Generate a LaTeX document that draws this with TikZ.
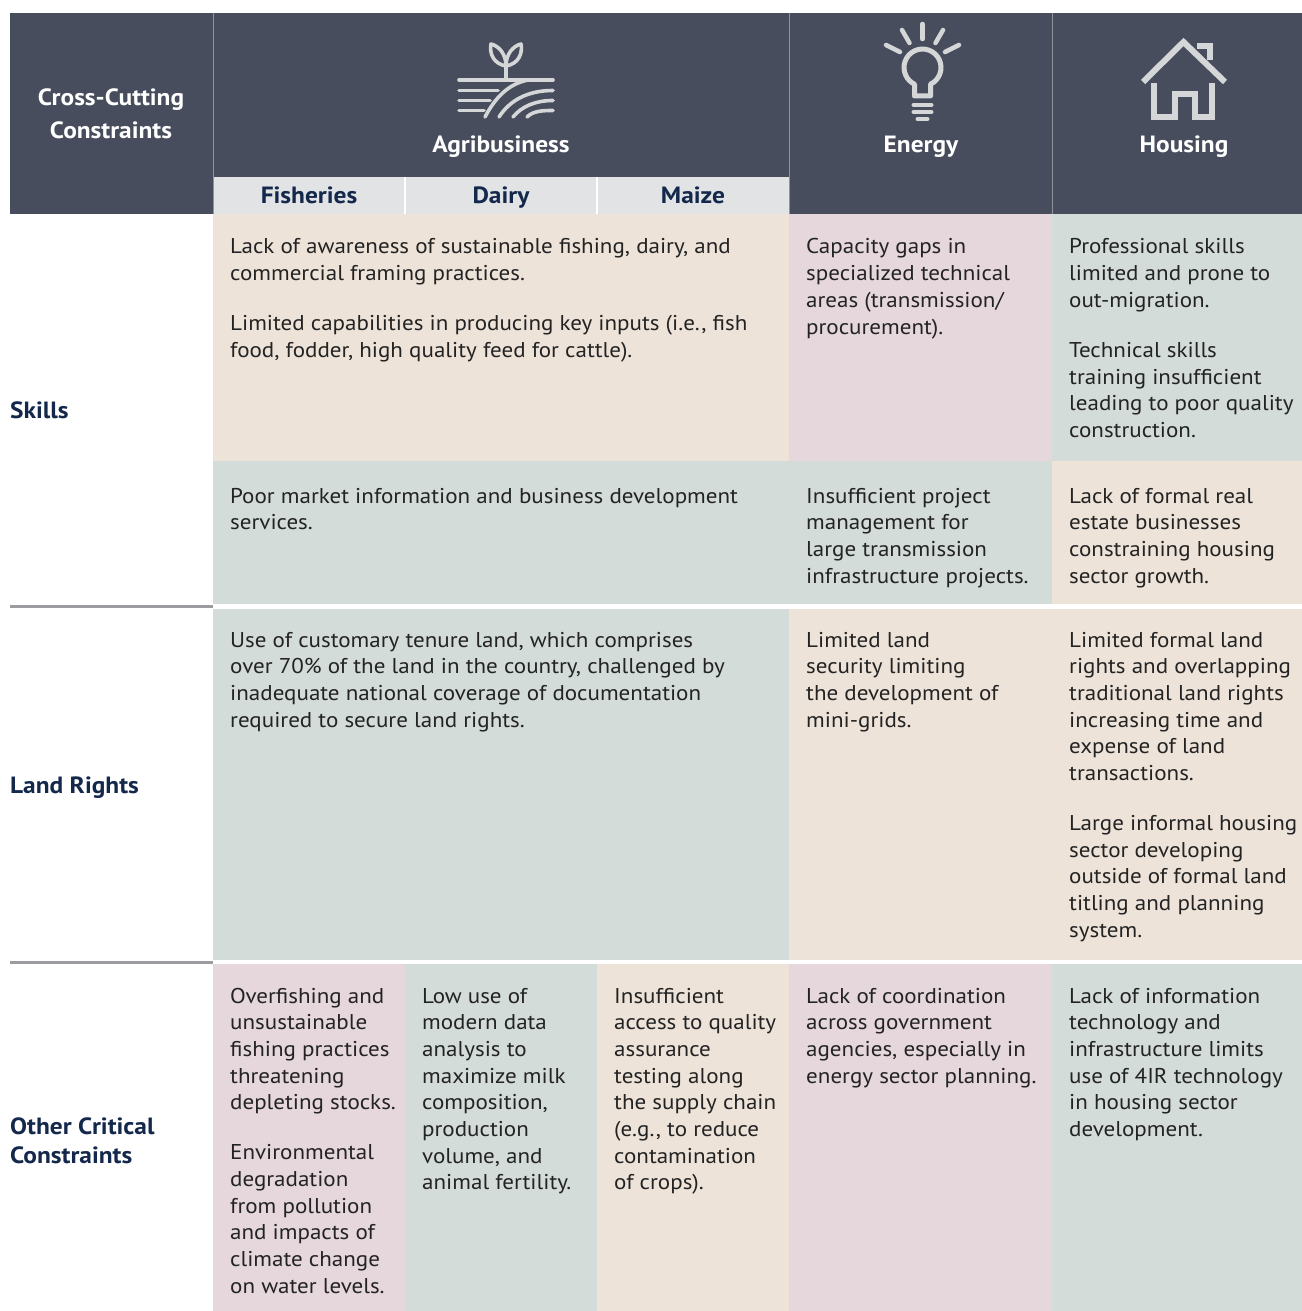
\documentclass[tikz,border=0pt]{standalone}
\usepackage{fontspec}
\setmainfont{PT Sans}[Numbers=OldStyle]
\newfontfamily\bodyf{PT Sans}[FakeStretch=1.076]
\newfontfamily\boldf{PT Sans}[FakeStretch=1.08]
\definecolor{hdr}{HTML}{474D5C}
\definecolor{subh}{HTML}{E1E3E5}
\definecolor{beige}{HTML}{EDE3D9}
\definecolor{sage}{HTML}{D3DCD9}
\definecolor{rose}{HTML}{E5D7DB}
\definecolor{navy}{HTML}{14284B}
\definecolor{bodyc}{HTML}{232323}
\definecolor{rulec}{HTML}{9B9CA0}
\definecolor{iconc}{HTML}{D5D6D8}
\definecolor{hsep}{HTML}{8E939C}
\newcommand{\lt}[1]{\begin{tabular}[t]{@{}l@{}}#1\end{tabular}}
\newcommand{\ct}[1]{\begin{tabular}[t]{@{}c@{}}#1\end{tabular}}
\newcommand{\pgap}{\\[23.3bp]}
\begin{document}
\begin{tikzpicture}[x=1bp,y=-1bp,
  body/.style={anchor=base west, inner sep=0pt, text=bodyc, font=\bodyf\fontsize{21.4bp}{26.7bp}\selectfont},
  hd/.style={anchor=base, inner sep=0pt, text=white, font=\boldf\bfseries\fontsize{23.5bp}{33bp}\selectfont},
  subt/.style={anchor=base, inner sep=0pt, text=navy, font=\boldf\bfseries\fontsize{23.5bp}{26bp}\selectfont},
  rowlab/.style={anchor=base west, inner sep=0pt, text=navy, font=\boldf\bfseries\fontsize{23.5bp}{29bp}\selectfont},
  icon/.style={draw=iconc, line width=4.5bp, line cap=round, line join=round},
]
\useasboundingbox (0,0) rectangle (1302,1311);
\fill[white] (0,0) rectangle (1302,1311);
% header
\fill[hdr] (10,13) rectangle (1302,214);
\fill[subh] (213,177) rectangle (789,214);
\draw[hsep, line width=1bp] (213,13) -- (213,214);
\draw[hsep, line width=1bp] (789,13) -- (789,214);
\draw[hsep, line width=1bp] (1052,13) -- (1052,214);
\draw[white, line width=1.2bp] (405,177) -- (405,214);
\draw[white, line width=1.2bp] (597,177) -- (597,214);
% Skills rows
\fill[beige] (213,214) rectangle (789,461);
\fill[rose] (789,214) rectangle (1052,461);
\fill[sage] (1052,214) rectangle (1302,461);
\fill[sage] (213,461) rectangle (1052,604);
\fill[beige] (1052,461) rectangle (1302,604);
% Land rights
\fill[sage] (213,609) rectangle (789,960);
\fill[beige] (789,609) rectangle (1302,960);
% Other
\fill[rose] (213,964) rectangle (405,1311);
\fill[sage] (405,964) rectangle (597,1311);
\fill[beige] (597,964) rectangle (789,1311);
\fill[rose] (789,964) rectangle (1052,1311);
\fill[sage] (1052,964) rectangle (1302,1311);
% rules
\draw[rulec, line width=3bp] (10,606.5) -- (213,606.5);
\draw[rulec, line width=3bp] (10,962) -- (213,962);

% icons: agribusiness
\draw[icon, line width=3.6bp] (506,66) .. controls (494,64) and (489,54) .. (491,44) .. controls (499,46) and (506,54) .. (506,66)
  .. controls (518,64) and (523,54) .. (521,44) .. controls (513,46) and (506,54) .. (506,66) -- (506,79);
\draw[icon, line width=3.6bp] (459,80) -- (553,80);
\draw[icon, line width=3.6bp] (459,90.5) -- (498,90.5);
\draw[icon, line width=3.6bp] (459,100.5) -- (490,100.5);
\draw[icon, line width=3.6bp] (459,110.5) -- (484,110.5);
\draw[icon, line width=3.6bp] (485,117) .. controls (495,98) and (508,84) .. (528,80);
\draw[icon, line width=3.6bp] (499,117) .. controls (510,100) and (528,90.5) .. (553,90.5);
\draw[icon, line width=3.6bp] (513,117) .. controls (522,106) and (536,100.5) .. (553,100.5);
\draw[icon, line width=3.6bp] (527,117) .. controls (533,111) and (542,110.5) .. (553,110.5);
% bulb
\draw[icon] (922.5,24) -- (922.5,39);
\draw[icon] (902,30) -- (909.5,43);
\draw[icon] (943,30) -- (935.5,43);
\draw[icon] (886,45) -- (900,52);
\draw[icon] (959,45) -- (945,52);
\draw[icon, line width=5bp] (930.5,84.2) arc[start angle=64.4, end angle=-244.4, radius=18.5] -- (914.5,96) -- (930.5,96) -- cycle;
\draw[icon, line width=4bp] (913.5,105) -- (931.5,105);
\draw[icon, line width=4bp] (913.5,112) -- (931.5,112);
\draw[icon, line width=4bp] (917.5,119) -- (927.5,119);
% house
\draw[icon, line width=6bp, line cap=butt, line join=miter] (1143,82) -- (1183.5,42) -- (1225,82);
\draw[icon, line width=6bp, line cap=butt, line join=miter] (1197,46) -- (1209.5,46) -- (1209.5,60);
\draw[icon, line width=6bp, line cap=butt, line join=miter] (1154,83) -- (1154,117.5) -- (1175,117.5) -- (1175,94.5) -- (1195,94.5) -- (1195,117.5) -- (1212,117.5) -- (1212,83);

% header texts
\node[hd] (cc) at (111,106) {\ct{Cross-Cutting\\Constraints}};
\node[hd] (agri) at (501,153) {Agribusiness};
\node[hd] (ener) at (921,153) {Energy};
\node[hd] (hous) at (1184,153) {Housing};
\node[subt] (fish) at (309,204) {Fisheries};
\node[subt] (dairy) at (501,204) {Dairy};
\node[subt] (maize) at (693,204) {Maize};
% row labels
\node[rowlab] (skills) at (10,418) {Skills};
\node[rowlab] (land) at (10,793) {Land Rights};
\node[rowlab] (other) at (10,1134) {\lt{Other Critical\\Constraints}};

% skills
\node[body] (s1) at (230,254) {\lt{Lack of awareness of sustainable fishing, dairy, and\\commercial framing practices.\pgap Limited capabilities in producing key inputs (i.e., fish\\food, fodder, high quality feed for cattle).}};
\node[body] (s2) at (806,254) {\lt{Capacity gaps in\\specialized technical\\areas (transmission/\\procurement).}};
\node[body] (s3) at (1069,254) {\lt{Professional skills\\limited and prone to\\out-migration.\pgap Technical skills\\training insufficient\\leading to poor quality\\construction.}};
\node[body] (s4) at (230,503) {\lt{Poor market information and business development\\services.}};
\node[body] (s5) at (806,503) {\lt{Insufficient project\\management for\\large transmission\\infrastructure projects.}};
\node[body] (s6) at (1069,503) {\lt{Lack of formal real\\estate businesses\\constraining housing\\sector growth.}};
% land rights
\node[body] (l1) at (230,647) {\lt{Use of customary tenure land, which comprises\\over 70\% of the land in the country, challenged by\\inadequate national coverage of documentation\\required to secure land rights.}};
\node[body] (l2) at (806,647) {\lt{Limited land\\security limiting\\the development of\\mini-grids.}};
\node[body] (l3) at (1069,647) {\lt{Limited formal land\\rights and overlapping\\traditional land rights\\increasing time and\\expense of land\\transactions.\pgap Large informal housing\\sector developing\\outside of formal land\\titling and planning\\system.}};
% other
\node[body] (o1) at (230,1003) {\lt{Overfishing and\\unsustainable\\fishing practices\\threatening\\depleting stocks.\pgap Environmental\\degradation\\from pollution\\and impacts of\\climate change\\on water levels.}};
\node[body] (o2) at (422,1003) {\lt{Low use of\\modern data\\analysis to\\maximize milk\\composition,\\production\\volume, and\\animal fertility.}};
\node[body] (o3) at (614,1003) {\lt{Insufficient\\access to quality\\assurance\\testing along\\the supply chain\\(e.g., to reduce\\contamination\\of crops).}};
\node[body] (o4) at (806,1003) {\lt{Lack of coordination\\across government\\agencies, especially in\\energy sector planning.}};
\node[body] (o5) at (1069,1003) {\lt{Lack of information\\technology and\\infrastructure limits\\use of 4IR technology\\in housing sector\\development.}};
\end{tikzpicture}
\end{document}
